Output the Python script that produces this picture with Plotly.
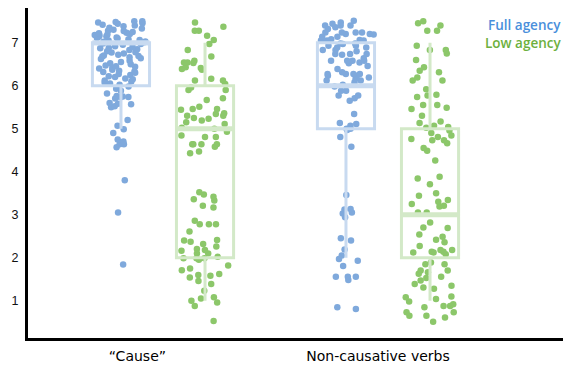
import plotly.graph_objects as go

categories = ["“Cause”", "Non-causative verbs"]
tick_labels = ["“Cause”" + "\u00a0" * 7, "Non-causative verbs"]
series_names = ["Full agency", "Low agency"]

# jittered ratings (as plotted) for each series / category
cause_full = [7.5, 7.45, 7.48, 7.42, 7.38, 7.35, 7.4, 7.33, 7.5, 7.47, 7.3, 7.44,
              7.28, 7.25, 7.22, 7.2, 7.18, 7.15, 7.12, 7.1, 7.08, 7.05, 7.03, 7.01,
              7.27, 7.19, 7.14, 7.06, 7.23, 7.11, 7.02, 7.17,
              6.98, 6.95, 6.92, 6.9, 6.88, 6.85, 6.83, 6.8, 6.78, 6.75, 6.72, 6.7,
              6.68, 6.66, 6.64, 6.62, 6.97, 6.87, 6.77, 6.69,
              6.58, 6.55, 6.52, 6.5, 6.47, 6.44, 6.42, 6.4, 6.37, 6.35, 6.32, 6.3,
              6.27, 6.25, 6.22, 6.2, 6.17, 6.15, 6.12, 6.1, 6.07, 6.05, 6.02, 6.45, 6.33,
              5.98, 5.93, 5.88, 5.82, 5.76, 5.75, 5.74, 5.73,
              5.7, 5.57, 5.6, 5.58, 5.52, 5.5,
              5.2, 5.07, 4.99, 4.9, 4.75, 4.7, 4.68, 4.64, 4.57, 4.64,
              3.8, 3.05, 1.84]
noncaus_full = [7.51, 7.47, 7.44, 7.4, 7.4, 7.4, 7.36, 7.32, 7.24, 7.24, 7.24, 7.24,
                7.2, 7.2, 7.19, 7.14, 7.14, 7.08, 7.06, 7.05, 7.05, 7.05, 6.98, 6.98,
                6.97, 6.93, 6.93, 6.89, 6.89, 6.83, 6.83, 6.8, 6.74, 6.74, 6.74, 6.72,
                6.64, 6.58, 6.58, 6.58, 6.58, 6.54, 6.52, 6.46, 6.39, 6.31, 6.27, 6.27,
                6.27, 6.27, 6.23, 6.23, 6.19, 6.16, 6.12, 6.12, 6.08, 6.02, 5.98, 5.88,
                5.88, 5.77, 5.77, 5.71, 5.65, 5.34, 5.11, 5.07, 5.13, 5.0, 5.0, 4.97,
                4.81, 4.58,
                3.46, 3.12, 3.13, 3.05, 3.03, 2.94, 2.45, 2.4, 2.19, 2.05, 1.97, 1.93,
                1.81, 1.56, 1.56, 1.56, 1.48, 0.85, 0.81]
cause_low = [7.47, 7.37, 7.28, 7.28, 7.16, 7.06, 6.97, 6.83, 6.68, 6.58, 6.54, 6.54,
             6.53, 6.43, 6.39, 6.41, 6.37, 6.16, 6.12, 6.12, 6.04, 5.96, 5.9, 5.9,
             5.71, 5.67, 5.51, 5.46, 5.46, 5.44, 5.36, 5.34, 5.3, 5.3, 5.25, 5.23,
             5.19, 5.15, 5.11, 5.02, 5.0, 4.93, 4.84, 4.81, 4.81, 4.64, 4.64, 4.64,
             4.64, 4.58, 4.47, 4.43,
             3.52, 3.47, 3.42, 3.36, 3.33, 3.21, 3.17, 2.86, 2.78, 2.78, 2.78, 2.61,
             2.4, 2.41, 2.37, 2.32, 2.26, 2.2, 2.18, 2.16, 2.1, 2.1, 2.02, 1.99, 1.99,
             1.99, 1.95, 1.82, 1.75, 1.71, 1.62, 1.6, 1.58, 1.54, 1.46, 1.39, 1.23,
             1.08, 1.05, 1.0, 0.96, 0.88, 0.53]
noncaus_low = [7.5, 7.45, 7.4, 7.28, 7.28, 6.93, 6.83, 6.83, 6.75, 6.6, 6.43, 6.35,
               6.31, 6.12, 6.12, 6.19, 5.92, 5.79, 5.77, 5.74, 5.55, 5.55, 5.49, 5.46,
               5.3, 5.17, 5.13, 5.07, 5.04, 5.02, 4.96, 4.9, 4.84, 4.81, 4.76, 4.73,
               4.73, 4.66, 4.55, 4.49, 4.26, 3.88, 3.84,
               3.71, 3.5, 3.44, 3.34, 3.3, 3.25, 3.19, 3.21, 3.05, 3.05, 2.82, 2.7,
               2.69, 2.54, 2.49, 2.42, 2.36, 2.27, 2.18, 2.18, 2.14, 2.14, 2.12, 2.12,
               2.08, 1.89, 1.85, 1.85, 1.7, 1.7, 1.66, 1.63, 1.56, 1.53, 1.47, 1.39,
               1.35, 1.31, 1.28, 1.1, 1.08, 1.04, 0.98, 0.92, 0.88, 0.88, 0.85, 0.73,
               0.73, 0.65, 0.65, 0.61, 0.51]

# box statistics (per category) computed on the underlying 1-7 ratings
full_q1 = [6, 5]
full_median = [7, 6]
full_q3 = [7, 7]
full_lower = [5, 2]
full_upper = [7, 7]
low_q1 = [2, 2]
low_median = [5, 3]
low_q3 = [6, 5]
low_lower = [1, 1]
low_upper = [7, 7]

point_colors = ["#7FA9DC", "#8CC76A"]
box_colors = ["#C8DAF0", "#D3E9C8"]
text_colors = ["#4A8FDB", "#6DB03E"]

fig = go.Figure()

series = [
    (cause_full, noncaus_full, full_q1, full_median, full_q3, full_lower, full_upper),
    (cause_low, noncaus_low, low_q1, low_median, low_q3, low_lower, low_upper),
]

for i, (a, b, q1, med, q3, lo, hi) in enumerate(series):
    grp = series_names[i]
    # jittered points, invisible box
    fig.add_trace(go.Box(
        x=[categories[0]] * len(a) + [categories[1]] * len(b),
        y=a + b,
        name=grp, offsetgroup=grp, boxpoints="all", jitter=1, pointpos=0,
        marker=dict(color=point_colors[i], size=6.5, line=dict(width=0)),
        line=dict(width=0, color="rgba(0,0,0,0)"), fillcolor="rgba(0,0,0,0)",
        whiskerwidth=0, showlegend=False, hoverinfo="y",
    ))
    # box from summary statistics
    fig.add_trace(go.Box(
        x=categories, q1=q1, median=med, q3=q3, lowerfence=lo, upperfence=hi,
        name=grp, offsetgroup=grp, boxpoints=False,
        line=dict(width=3, color=box_colors[i]), fillcolor="rgba(0,0,0,0)",
        whiskerwidth=0, showlegend=False,
    ))
    # thicker median line
    fig.add_trace(go.Box(
        x=categories, q1=med, median=med, q3=med, lowerfence=med, upperfence=med,
        name=grp, offsetgroup=grp, boxpoints=False,
        line=dict(width=5, color=box_colors[i]), fillcolor="rgba(0,0,0,0)",
        whiskerwidth=0, showlegend=False,
    ))

for i, name in enumerate(series_names):
    fig.add_annotation(
        text=name, xref="paper", yref="paper", x=1, y=[0.948, 0.893][i],
        xanchor="right", yanchor="middle", showarrow=False, xshift=-5,
        font=dict(family="Open Sans", size=13.5, color=text_colors[i], weight=600),
    )

# page body adds an 8 px offset, so the figure is 8 px smaller than the window
fig.update_layout(
    width=563, height=360,
    margin=dict(l=20, r=3, t=0, b=30),
    paper_bgcolor="white", plot_bgcolor="white",
    boxmode="group", boxgap=0.253, boxgroupgap=0.32,
    font=dict(family="Liberation Sans", size=12.5, color="#111"),
    showlegend=False,
)
fig.update_xaxes(
    type="category", range=[-0.6, 1.8], tickvals=categories, ticktext=tick_labels,
    ticklabelshift=-10, ticklabelstandoff=3, showline=True, linewidth=3,
    linecolor="black", showgrid=False, zeroline=False, ticks="",
    tickfont=dict(family="DejaVu Sans", size=14, color="#000"),
)
fig.update_yaxes(
    range=[0.133, 7.807], tickvals=[1, 2, 3, 4, 5, 6, 7],
    showline=True, linewidth=3, linecolor="black", showgrid=False,
    zeroline=False, ticks="", ticklabelstandoff=4,
)

fig.write_html("out.html")
